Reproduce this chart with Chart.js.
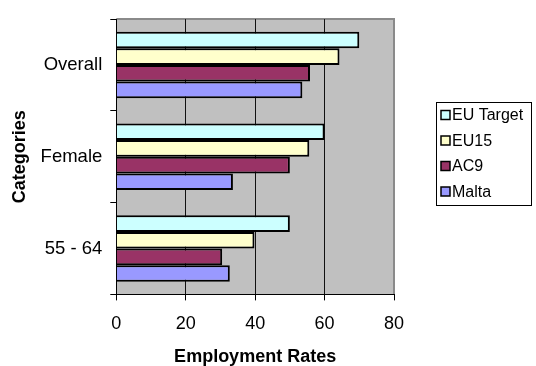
<!DOCTYPE html>
<html>
<head>
<meta charset="utf-8">
<title>Employment Rates</title>
<script src="https://cdn.jsdelivr.net/npm/chart.js@4/dist/chart.umd.min.js"></script>
<style>
  html, body { margin: 0; padding: 0; background: #fff; }
  #wrap { width: 536px; height: 366px; }
</style>
</head>
<body>
<div id="wrap"><canvas id="rates" width="536" height="366"></canvas></div>
<script>
// Employment rates by group
const categories = ['Overall', 'Female', '55 - 64'];
const seriesNames = ['EU Target', 'EU15', 'AC9', 'Malta'];
const euTarget = [70, 60, 50];
const eu15 = [64.3, 55.6, 39.8];
const ac9 = [55.8, 50, 30.5];
const malta = [53.6, 33.6, 32.7];
const xTicks = [0, 20, 40, 60, 80];

const fills = ['#CCFFFF', '#FFFFCC', '#993366', '#9999FF'];
const FONT = '"Liberation Sans", Arial, sans-serif';

// grey plot area with a darker frame on top and right
const plotArea = {
  id: 'plotArea',
  beforeDraw(chart) {
    const { ctx, chartArea: a } = chart;
    ctx.save();
    ctx.fillStyle = '#C0C0C0';
    ctx.fillRect(a.left, a.top, a.right - a.left, a.bottom - a.top);
    ctx.strokeStyle = '#8A8A8A';
    ctx.lineWidth = 2;
    ctx.beginPath();
    ctx.moveTo(a.left, a.top);
    ctx.lineTo(a.right, a.top);
    ctx.lineTo(a.right, a.bottom);
    ctx.stroke();
    ctx.restore();
  }
};

// boxed legend to the right of the plot
const boxLegend = {
  id: 'boxLegend',
  afterDraw(chart) {
    const { ctx } = chart;
    const x = 436, y = 102, w = 95, h = 103, row = 25.5;
    ctx.save();
    ctx.strokeStyle = '#000';
    ctx.lineWidth = 1;
    ctx.strokeRect(x + 0.5, y + 0.5, w, h);
    ctx.font = '16px ' + FONT;
    ctx.textBaseline = 'middle';
    chart.data.datasets.forEach(function(ds, i) {
      const cy = y + 13 + i * row;
      ctx.fillStyle = ds.backgroundColor;
      ctx.fillRect(x + 5, cy - 4.5, 9, 9);
      ctx.lineWidth = 1.5;
      ctx.strokeRect(x + 5, cy - 4.5, 9, 9);
      ctx.fillStyle = '#000';
      ctx.fillText(ds.label, x + 16, cy + 1);
    });
    ctx.restore();
  }
};

const seriesData = [euTarget, eu15, ac9, malta];

new Chart(document.getElementById('rates'), {
  type: 'bar',
  data: {
    labels: categories,
    datasets: seriesData.map(function(values, i) {
      return {
        label: seriesNames[i],
        data: values,
        backgroundColor: fills[i],
        borderColor: '#000',
        borderWidth: 2,
        categoryPercentage: 0.725,
        barPercentage: 1.0
      };
    })
  },
  options: {
    indexAxis: 'y',
    responsive: false,
    animation: false,
    layout: { padding: { left: 9, right: 142, top: 8, bottom: 0 } },
    plugins: {
      legend: { display: false },
      tooltip: { enabled: false }
    },
    scales: {
      x: {
        min: 0,
        max: 80,
        afterBuildTicks: function(axis) {
          axis.ticks = xTicks.map(function(v) { return { value: v }; });
        },
        border: { color: '#000', width: 1 },
        grid: {
          color: function(c) {
            return (c.tick && (c.tick.value === 0 || c.tick.value === 80)) ? 'rgba(0,0,0,0)' : '#111';
          },
          tickColor: '#000',
          tickLength: 6,
          lineWidth: 1
        },
        ticks: {
          color: '#000',
          padding: 13,
          font: { family: FONT, size: 18 }
        },
        title: {
          display: true,
          text: 'Employment Rates',
          color: '#000',
          padding: { top: 0, bottom: 0 },
          font: { family: FONT, size: 18, weight: 'bold', lineHeight: 1.0 }
        }
      },
      y: {
        border: { color: '#000', width: 1 },
        grid: {
          drawOnChartArea: false,
          tickColor: '#000',
          tickLength: 6
        },
        ticks: {
          color: '#000',
          padding: 8,
          font: { family: FONT, size: 18.5 }
        },
        title: {
          display: true,
          text: 'Categories',
          color: '#000',
          padding: { top: 0, bottom: 2 },
          font: { family: FONT, size: 18, weight: 'bold', lineHeight: 1.2 }
        }
      }
    }
  },
  plugins: [plotArea, boxLegend]
});
</script>
</body>
</html>
